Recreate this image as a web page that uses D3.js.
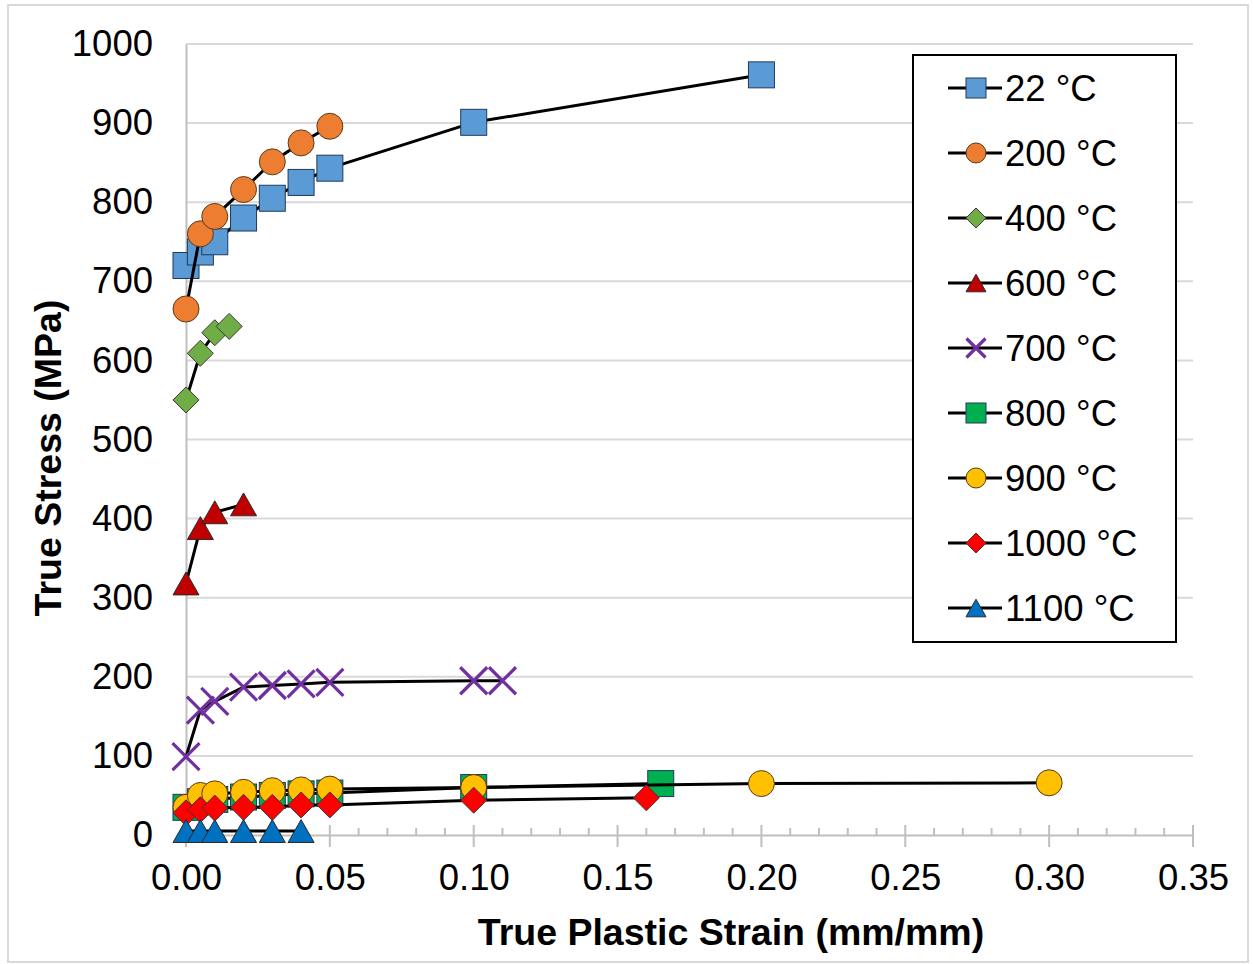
<!DOCTYPE html>
<html>
<head>
<meta charset="utf-8">
<script src="https://cdn.jsdelivr.net/npm/d3@7"></script>
<style>
  html, body { margin: 0; padding: 0; background: #fff; }
  svg { display: block; font-family: "Liberation Sans", Arial, sans-serif; }
</style>
</head>
<body>
<svg id="chart" width="1253" height="964"></svg>
<script>
// Strain (mm/mm) and stress (MPa) per test temperature
const labels = ["22 °C", "200 °C", "400 °C", "600 °C", "700 °C", "800 °C", "900 °C", "1000 °C", "1100 °C"];

const strain22   = [0, 0.005, 0.01, 0.02, 0.03, 0.04, 0.05, 0.10, 0.20];
const stress22   = [720, 737, 750, 780, 805, 825, 843, 901, 961];
const strain200  = [0, 0.005, 0.01, 0.02, 0.03, 0.04, 0.05];
const stress200  = [665, 760, 782, 816, 851, 875, 896];
const strain400  = [0, 0.005, 0.01, 0.015];
const stress400  = [550, 609, 635, 643];
const strain600  = [0, 0.005, 0.01, 0.02];
const stress600  = [318, 388, 408, 418];
const strain700  = [0, 0.005, 0.01, 0.02, 0.03, 0.04, 0.05, 0.10, 0.11];
const stress700  = [99, 158, 169, 187, 189, 191, 193, 195, 195];
const strain800  = [0, 0.005, 0.01, 0.02, 0.03, 0.04, 0.05, 0.10, 0.165];
const stress800  = [35, 42, 45, 48, 50, 52, 53, 60, 65];
const strain900  = [0, 0.005, 0.01, 0.02, 0.03, 0.04, 0.05, 0.10, 0.20, 0.30];
const stress900  = [35, 50, 52, 54, 56, 57, 58, 60, 65, 66];
const strain1000 = [0, 0.005, 0.01, 0.02, 0.03, 0.04, 0.05, 0.10, 0.16];
const stress1000 = [28, 32, 34, 35, 35, 38, 38, 44, 47];
const strain1100 = [0, 0.005, 0.01, 0.02, 0.03, 0.04];
const stress1100 = [5, 5, 5, 5, 5, 5];

const xTicks = [0, 0.05, 0.10, 0.15, 0.20, 0.25, 0.30, 0.35];
const yTicks = [0, 100, 200, 300, 400, 500, 600, 700, 800, 900, 1000];

const strains  = [strain22, strain200, strain400, strain600, strain700, strain800, strain900, strain1000, strain1100];
const stresses = [stress22, stress200, stress400, stress600, stress700, stress800, stress900, stress1000, stress1100];

// Marker look for each series
const markers = [
  { shape: "square",   fill: "#5b9bd5" },
  { shape: "circle",   fill: "#ed7d31" },
  { shape: "diamond",  fill: "#70ad47" },
  { shape: "triangle", fill: "#c00000" },
  { shape: "cross",    fill: "#7030a0" },
  { shape: "square",   fill: "#00b050" },
  { shape: "circle",   fill: "#ffc000" },
  { shape: "diamond",  fill: "#ff0000" },
  { shape: "triangle", fill: "#0070c0" }
];

const series = labels.map((name, i) => ({
  name,
  ...markers[i],
  points: strains[i].map((s, j) => ({ x: s, y: stresses[i][j] }))
}));

const svg = d3.select("#chart");

// outer chart frame
svg.append("rect")
  .attr("x", 8).attr("y", 5).attr("width", 1240).attr("height", 957)
  .attr("fill", "#fff").attr("stroke", "#d9d9d9").attr("stroke-width", 2);

const x = d3.scaleLinear().domain([0, 0.35]).range([186, 1193]);
const y = d3.scaleLinear().domain([0, 1000]).range([835, 44]);

// horizontal gridlines
svg.append("g")
  .selectAll("line")
  .data(yTicks.filter(v => v > 0))
  .join("line")
  .attr("x1", x(0)).attr("x2", x(0.35))
  .attr("y1", d => y(d)).attr("y2", d => y(d))
  .attr("stroke", "#d9d9d9").attr("stroke-width", 2);

// y axis: plain line with labels
const yAxis = svg.append("g")
  .attr("transform", `translate(${x(0)},0)`)
  .call(d3.axisLeft(y).tickValues(yTicks).tickSize(0).tickPadding(33).tickFormat(d3.format("d")));
yAxis.select(".domain").attr("stroke", "#bfbfbf").attr("stroke-width", 2);
yAxis.selectAll("text").attr("font-size", 36.5).attr("fill", "#000")
  .attr("font-family", "Liberation Sans, Arial, sans-serif");

// x axis: minor ticks inside, major ticks crossing
const minorTicks = d3.range(0, 36).map(i => i / 100).filter(v => Math.round(v * 100) % 5 !== 0);
svg.append("g")
  .selectAll("line")
  .data(minorTicks)
  .join("line")
  .attr("x1", d => x(d)).attr("x2", d => x(d))
  .attr("y1", y(0) - 7).attr("y2", y(0))
  .attr("stroke", "#bfbfbf").attr("stroke-width", 2);

svg.append("g")
  .selectAll("line")
  .data(xTicks)
  .join("line")
  .attr("x1", d => x(d)).attr("x2", d => x(d))
  .attr("y1", y(0) - 10).attr("y2", y(0) + 12)
  .attr("stroke", "#bfbfbf").attr("stroke-width", 2);

const xAxis = svg.append("g")
  .attr("transform", `translate(0,${y(0)})`)
  .call(d3.axisBottom(x).tickValues(xTicks).tickSize(0).tickPadding(29).tickFormat(d3.format(".2f")));
xAxis.select(".domain").attr("stroke", "#bfbfbf").attr("stroke-width", 2);
xAxis.selectAll("text").attr("font-size", 36.5).attr("fill", "#000")
  .attr("font-family", "Liberation Sans, Arial, sans-serif");

// axis titles
svg.append("text")
  .attr("x", 731).attr("y", 945)
  .attr("text-anchor", "middle")
  .attr("font-size", 37.5).attr("font-weight", "bold")
  .text("True Plastic Strain (mm/mm)");

svg.append("text")
  .attr("transform", "translate(61,458) rotate(-90)")
  .attr("text-anchor", "middle")
  .attr("font-size", 37.5).attr("font-weight", "bold")
  .text("True Stress (MPa)");

// marker drawing
function drawMarker(g, shape, fill, size) {
  const h = size / 2;
  if (shape === "square") {
    g.append("rect").attr("x", -h).attr("y", -h).attr("width", size).attr("height", size)
      .attr("fill", fill).attr("stroke", "#1f3a5a").attr("stroke-width", 1);
  } else if (shape === "circle") {
    g.append("circle").attr("r", h)
      .attr("fill", fill).attr("stroke", "#5a3a1a").attr("stroke-width", 1);
  } else if (shape === "diamond") {
    g.append("path").attr("d", `M0,${-h}L${h},0L0,${h}L${-h},0Z`)
      .attr("fill", fill).attr("stroke", "#3a3a3a").attr("stroke-width", 1);
  } else if (shape === "triangle") {
    const th = size * 0.88;
    g.append("path").attr("d", `M0,${-th / 2}L${h},${th / 2}L${-h},${th / 2}Z`)
      .attr("fill", fill).attr("stroke", "#2a2a2a").attr("stroke-width", 1);
  } else if (shape === "cross") {
    g.append("path").attr("d", `M${-h},${-h}L${h},${h}M${-h},${h}L${h},${-h}`)
      .attr("stroke", fill).attr("stroke-width", 3.2).attr("fill", "none");
  }
}

const line = d3.line().x(d => x(d.x)).y(d => y(d.y));

// each series: line, then its markers
series.forEach(s => {
  const g = svg.append("g");
  g.append("path").datum(s.points)
    .attr("d", line).attr("fill", "none")
    .attr("stroke", "#000").attr("stroke-width", 3).attr("stroke-linejoin", "round");
  g.selectAll("g.pt").data(s.points).join("g")
    .attr("class", "pt")
    .attr("transform", d => `translate(${x(d.x)},${y(d.y)})`)
    .each(function () { drawMarker(d3.select(this), s.shape, s.fill, s.shape === "cross" ? 27 : 26); });
});

// legend
const legend = svg.append("g");
legend.append("rect")
  .attr("x", 913).attr("y", 55).attr("width", 263).attr("height", 587)
  .attr("fill", "#fff").attr("stroke", "#000").attr("stroke-width", 2);

series.forEach((s, i) => {
  const cy = 88 + i * 65;
  const row = legend.append("g").attr("transform", `translate(0,${cy})`);
  row.append("line").attr("x1", 948).attr("x2", 1002).attr("y1", 0).attr("y2", 0)
    .attr("stroke", "#000").attr("stroke-width", 3);
  const m = row.append("g").attr("transform", "translate(976,0)");
  drawMarker(m, s.shape, s.fill, s.shape === "cross" ? 19 : 20);
  row.append("text").attr("x", 1005).attr("y", 13)
    .attr("font-size", 36.5).attr("fill", "#000")
    .text(s.name);
});
</script>
</body>
</html>
